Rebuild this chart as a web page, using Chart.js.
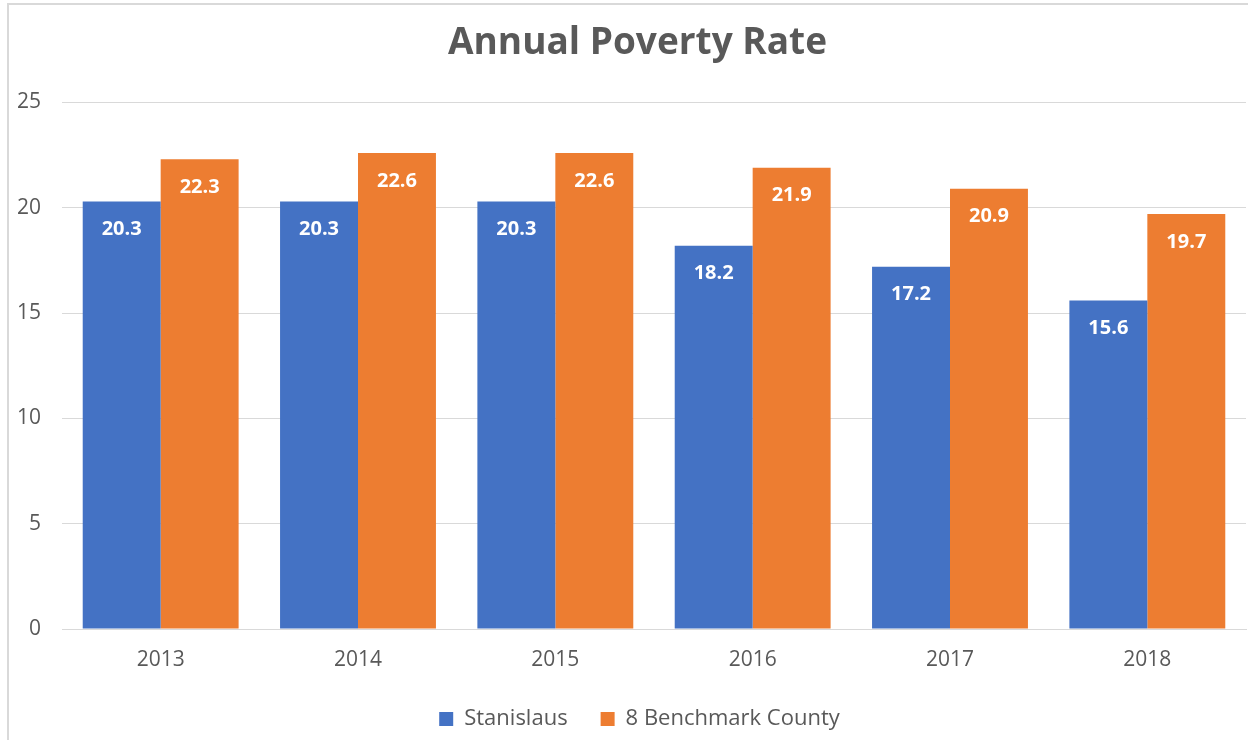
<!DOCTYPE html>
<html>
<head>
<meta charset="utf-8">
<script src="https://cdn.jsdelivr.net/npm/chart.js@4"></script>
<style>
  html, body { margin: 0; padding: 0; background: #fff; overflow: hidden; }
  .frame {
    position: absolute; left: 7px; top: 3px;
    width: 1260px; height: 737px;
    border-left: 2px solid #d9d9d9; border-top: 2px solid #d9d9d9;
  }
  .frame canvas { display: block; }
</style>
</head>
<body>
<div class="frame"><canvas id="povertyChart" width="1257" height="735"></canvas></div>
<script>
// data
const years = ['2013', '2014', '2015', '2016', '2017', '2018'];
const stanislaus = [20.3, 20.3, 20.3, 18.2, 17.2, 15.6];
const benchmark = [22.3, 22.6, 22.6, 21.9, 20.9, 19.7];
const yTicks = [0, 5, 10, 15, 20, 25];

const textGray = '#595959';
const gridGray = '#d9d9d9';

// values written inside the top of each bar
const barLabels = {
    id: 'barLabels',
    afterDatasetsDraw(chart) {
        let ctx = chart.ctx;
        ctx.save();
        ctx.fillStyle = '#ffffff';
        ctx.font = 'bold 20px "Open Sans"';
        ctx.textAlign = 'center';
        ctx.textBaseline = 'middle';
        chart.data.datasets.forEach(function(ds, i) {
            let meta = chart.getDatasetMeta(i);
            meta.data.forEach(function(bar, j) {
                ctx.fillText(ds.data[j].toFixed(1), bar.x, bar.y + 28);
            });
        });
        ctx.restore();
    }
};

// title and legend sit a little right of the plot centre in the original
const nudgeBlocks = {
    id: 'nudgeBlocks',
    afterLayout(chart) {
        if (chart.titleBlock) {
            chart.titleBlock.left += 10;
            chart.titleBlock.right += 10;
        }
        if (chart.legend) {
            chart.legend.left += 12;
            chart.legend.right += 12;
        }
    }
};

var ctx = document.getElementById('povertyChart').getContext('2d');
var myChart = new Chart(ctx, {
    type: 'bar',
    data: {
        labels: years,
        datasets: [{
            label: 'Stanislaus',
            data: stanislaus,
            backgroundColor: '#4472C4'
        }, {
            label: '8 Benchmark County',
            data: benchmark,
            backgroundColor: '#ED7D31'
        }]
    },
    plugins: [barLabels, nudgeBlocks],
    options: {
        responsive: false,
        animation: false,
        layout: { padding: { left: 0, right: 20, top: 0, bottom: 0 } },
        datasets: {
            bar: { categoryPercentage: 0.79, barPercentage: 1.0 }
        },
        plugins: {
            title: {
                display: true,
                text: 'Annual Poverty Rate',
                color: textGray,
                font: { family: '"Open Sans"', size: 37, weight: 'bold' },
                padding: { top: 16, bottom: 37 }
            },
            legend: {
                position: 'bottom',
                labels: {
                    color: textGray,
                    font: { family: '"Open Sans"', size: 22 },
                    boxWidth: 14,
                    boxHeight: 14,
                    padding: 33
                }
            },
            tooltip: { enabled: false }
        },
        scales: {
            x: {
                grid: { display: false, drawTicks: false },
                border: { color: gridGray },
                afterFit(scale) {
                    scale.height = 46;
                },
                ticks: {
                    color: textGray,
                    font: { family: '"Open Sans"', size: 21 },
                    padding: 18
                }
            },
            y: {
                min: 0,
                max: 25,
                afterBuildTicks(scale) {
                    scale.ticks = yTicks.map(v => ({ value: v }));
                },
                afterFit(scale) {
                    scale.width = 53;
                },
                grid: { color: gridGray, drawTicks: false },
                border: { display: false },
                ticks: {
                    color: textGray,
                    font: { family: '"Open Sans"', size: 21 },
                    padding: 21
                }
            }
        }
    }
});
</script>
</body>
</html>
